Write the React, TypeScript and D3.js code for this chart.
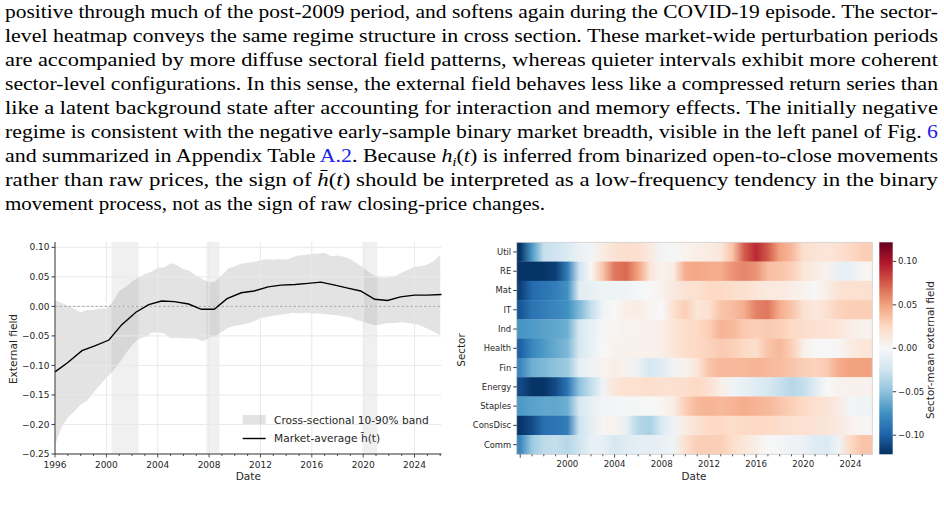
import React from "react";
import * as d3 from "d3";

// ---------- left panel: market-average external field ----------
const bandYears = d3.range(1996, 2026.01, 0.5);
const bandUpper = [
  0.010, 0.006, 0.001, -0.004, -0.010, -0.006, -0.006, -0.003, -0.004, 0.008,
  0.026, 0.033, 0.042, 0.049, 0.055, 0.058, 0.066, 0.066, 0.073, 0.070,
  0.063, 0.060, 0.052, 0.046, 0.041, 0.042, 0.053, 0.064, 0.068, 0.072,
  0.074, 0.075, 0.078, 0.080, 0.079, 0.080, 0.079, 0.083, 0.086, 0.087,
  0.089, 0.089, 0.091, 0.085, 0.086, 0.084, 0.080, 0.073, 0.066, 0.057,
  0.050, 0.048, 0.049, 0.051, 0.057, 0.062, 0.067, 0.068, 0.071, 0.077, 0.087,
];
const bandLower = [
  -0.235, -0.205, -0.188, -0.178, -0.166, -0.160, -0.146, -0.133, -0.121, -0.110,
  -0.096, -0.080, -0.066, -0.055, -0.052, -0.045, -0.044, -0.046, -0.054, -0.053,
  -0.054, -0.054, -0.055, -0.059, -0.053, -0.050, -0.043, -0.036, -0.033, -0.031,
  -0.029, -0.025, -0.020, -0.018, -0.016, -0.014, -0.013, -0.011, -0.012, -0.011,
  -0.012, -0.012, -0.013, -0.014, -0.015, -0.017, -0.019, -0.023, -0.026, -0.030,
  -0.032, -0.030, -0.028, -0.028, -0.027, -0.028, -0.030, -0.033, -0.038, -0.043, -0.049,
];
const lineYears = [
  1996, 1997, 1998.1, 1999.1, 2000.2, 2001.2, 2002.3, 2003.3, 2004.3, 2005.3,
  2006.4, 2007.4, 2008.4, 2009.4, 2010.5, 2011.5, 2012.6, 2013.6, 2014.7, 2015.7,
  2016.7, 2017.8, 2018.8, 2019.8, 2020.9, 2021.9, 2022.9, 2024.0, 2025.0, 2026.1,
];
const marketAverage = [
  -0.111, -0.095, -0.075, -0.067, -0.057, -0.031, -0.010, 0.003, 0.009, 0.008,
  0.004, -0.005, -0.005, 0.013, 0.023, 0.026, 0.033, 0.036, 0.037, 0.039,
  0.041, 0.036, 0.031, 0.026, 0.012, 0.010, 0.016, 0.019, 0.019, 0.020,
];
const stressSpans = [
  [2000.4, 2002.5],
  [2007.8, 2008.8],
  [2020.0, 2021.1],
];
const leftYTicks = [0.1, 0.05, 0, -0.05, -0.1, -0.15, -0.2, -0.25];
const yearTicks = [1996, 2000, 2004, 2008, 2012, 2016, 2020, 2024];

// ---------- right panel: sector-mean field heatmap ----------
const sectors = ["Util", "RE", "Mat", "IT", "Ind", "Health", "Fin", "Energy", "Staples", "ConsDisc", "Comm"];
const heatYears = d3.range(1996, 2026);
const util = [-0.12, -0.07, -0.028, -0.025, -0.018, -0.008, -0.004, 0.01, 0.018, 0.022, 0.02, 0.012, -0.004, -0.002, 0.004, 0.008, 0.01, 0.014, 0.035, 0.075, 0.092, 0.075, 0.05, 0.04, 0.02, 0.018, 0.015, 0.02, 0.025, 0.03];
const realEstate = [-0.12, -0.12, -0.12, -0.115, -0.085, -0.025, 0.0, 0.035, 0.065, 0.07, 0.05, 0.015, 0.004, 0.01, 0.045, 0.048, 0.045, 0.045, 0.055, 0.06, 0.055, 0.038, 0.035, 0.03, 0.015, 0.01, 0.005, -0.01, -0.01, 0.003];
const materials = [-0.115, -0.095, -0.09, -0.085, -0.075, -0.015, -0.01, -0.006, -0.006, -0.005, -0.002, 0.0, 0.005, 0.012, 0.018, 0.02, 0.025, 0.025, 0.022, 0.02, 0.015, 0.012, 0.012, 0.008, 0.005, 0.0, 0.008, 0.018, 0.02, 0.02];
const infoTech = [-0.105, -0.09, -0.085, -0.08, -0.075, -0.055, -0.03, -0.005, 0.0, 0.008, 0.01, 0.002, 0.0, 0.02, 0.03, 0.015, 0.02, 0.035, 0.038, 0.045, 0.062, 0.065, 0.045, 0.035, 0.02, 0.012, 0.02, 0.028, 0.03, 0.03];
const industrials = [-0.072, -0.07, -0.066, -0.064, -0.06, -0.02, -0.01, -0.002, 0.003, 0.005, 0.005, 0.006, 0.008, 0.015, 0.022, 0.025, 0.03, 0.042, 0.04, 0.032, 0.03, 0.032, 0.03, 0.025, 0.022, 0.02, 0.018, 0.015, 0.008, 0.005];
const health = [-0.1, -0.08, -0.07, -0.062, -0.055, -0.02, -0.01, 0.0, 0.005, 0.006, 0.006, 0.005, 0.008, 0.015, 0.022, 0.025, 0.028, 0.032, 0.03, 0.025, 0.022, 0.035, 0.04, 0.03, 0.008, 0.0, 0.0, 0.002, 0.01, 0.015];
const financials = [-0.08, -0.06, -0.055, -0.05, -0.045, -0.012, -0.005, 0.004, 0.008, 0.005, -0.008, -0.022, -0.015, -0.005, 0.005, 0.015, 0.035, 0.04, 0.04, 0.04, 0.042, 0.04, 0.038, 0.035, 0.03, 0.028, 0.032, 0.045, 0.05, 0.05];
const energy = [-0.11, -0.12, -0.12, -0.11, -0.09, -0.05, -0.03, -0.005, 0.015, 0.02, 0.02, 0.022, 0.02, 0.02, 0.022, 0.025, 0.02, 0.008, -0.005, -0.01, -0.015, -0.02, -0.028, -0.035, -0.03, -0.015, 0.0, 0.004, 0.006, 0.005];
const staples = [-0.07, -0.066, -0.064, -0.064, -0.06, -0.02, -0.01, -0.004, -0.003, -0.002, -0.002, 0.0, 0.003, 0.01, 0.03, 0.04, 0.042, 0.04, 0.042, 0.045, 0.042, 0.04, 0.035, 0.03, 0.025, 0.02, 0.018, 0.01, -0.003, -0.006];
const consDisc = [-0.12, -0.11, -0.092, -0.09, -0.085, -0.025, -0.012, 0.003, 0.005, -0.01, -0.035, -0.04, -0.018, -0.005, 0.01, 0.018, 0.025, 0.025, 0.022, 0.025, 0.025, 0.025, 0.022, 0.02, 0.02, 0.018, 0.015, 0.012, 0.005, 0.002];
const comm = [-0.08, -0.045, -0.032, -0.03, -0.035, -0.025, -0.01, -0.01, -0.02, -0.015, -0.012, -0.012, -0.01, -0.005, 0.02, 0.03, 0.03, 0.03, 0.022, 0.015, 0.008, 0.0, -0.002, -0.005, -0.008, -0.015, -0.018, -0.005, 0.025, 0.035];
const sectorRows = [util, realEstate, materials, infoTech, industrials, health, financials, energy, staples, consDisc, comm];
const heatYearTicks = [2000, 2004, 2008, 2012, 2016, 2020, 2024];
const cbarTicks = [0.1, 0.05, 0, -0.05, -0.1];
const fieldLimit = 0.122;

// scales
const lx = d3.scaleLinear().domain([1996, 2026.1]).range([55, 441.5]);
const ly = d3.scaleLinear().domain([-0.25, 0.109]).range([454, 242]);
const hx = d3.scaleLinear().domain([1995.7, 2025.85]).range([516.7, 872.3]);
const hy = d3.scaleBand().domain(sectors).range([242.3, 454.3]);
const cy = d3.scaleLinear().domain([-fieldLimit, fieldLimit]).range([454.3, 242.3]);

// matplotlib-style RdBu_r: linear between the 11 scheme colours
const rdbu = d3.schemeRdBu[11].slice().reverse();
const rdbuDomain = rdbu.map((_, i) => -fieldLimit + (i * 2 * fieldLimit) / 10);
const color = d3.scaleLinear<string>().domain(rdbuDomain).range(rdbu).interpolate(d3.interpolateRgb).clamp(true);

const fmt = (v: number) => d3.format(".2f")(v).replace("-", "\u2212");
const sans = "DejaVu Sans";
const ink = "#262626";

const bandArea = d3
  .area<number>()
  .x((d) => lx(d))
  .y0((_, i) => ly(bandLower[i]))
  .y1((_, i) => ly(bandUpper[i]));
const avgLine = d3
  .line<number>()
  .x((d) => lx(d))
  .y((_, i) => ly(marketAverage[i]));

const Paragraph = () => {
  const left = 5;
  const full = 933;
  const top = 18;
  const lead = 24;
  const link = "#2323e6";
  const lines: React.ReactNode[] = [
    "positive through much of the post-2009 period, and softens again during the COVID-19 episode. The sector-",
    "level heatmap conveys the same regime structure in cross section. These market-wide perturbation periods",
    "are accompanied by more diffuse sectoral field patterns, whereas quieter intervals exhibit more coherent",
    "sector-level configurations. In this sense, the external field behaves less like a compressed return series than",
    "like a latent background state after accounting for interaction and memory effects. The initially negative",
    <>
      regime is consistent with the negative early-sample binary market breadth, visible in the left panel of Fig.{" "}
      <tspan fill={link}>6</tspan>
    </>,
    <>
      and summarized in Appendix Table <tspan fill={link}>A.2</tspan>. Because <tspan fontStyle="italic">h</tspan>
      <tspan fontStyle="italic" fontSize={13.5} dy={4}>i</tspan>
      <tspan dy={-4}>(</tspan>
      <tspan fontStyle="italic">t</tspan>) is inferred from binarized open-to-close movements
    </>,
    <>
      rather than raw prices, the sign of <tspan fontStyle="italic">{"h\u0304"}</tspan>(<tspan fontStyle="italic">t</tspan>) should be
      interpreted as a low-frequency tendency in the binary
    </>,
    "movement process, not as the sign of raw closing-price changes.",
  ];
  return (
    <g fontFamily="Liberation Serif" fontSize={19.5} fill="#000">
      {lines.map((l, i) => (
        <text
          key={i}
          x={left}
          y={top + i * lead}
          textLength={i === lines.length - 1 ? 540 : full}
          lengthAdjust="spacingAndGlyphs"
        >
          {l}
        </text>
      ))}
    </g>
  );
};

const FieldPanel = () => {
  const [x0, x1] = lx.range();
  const [yb, yt] = ly.range();
  return (
    <g fontFamily={sans}>
      {stressSpans.map(([a, b], i) => (
        <rect key={i} x={lx(a)} y={yt} width={lx(b) - lx(a)} height={yb - yt} fill="#808080" fillOpacity={0.12} />
      ))}
      <path d={bandArea(bandYears) ?? ""} fill="#808080" fillOpacity={0.22} />
      {/* grid */}
      {leftYTicks.map((t) => (
        <line key={t} x1={x0} x2={x1} y1={ly(t)} y2={ly(t)} stroke="#e9e9e9" strokeWidth={1} />
      ))}
      {yearTicks.map((t) => (
        <line key={t} x1={lx(t)} x2={lx(t)} y1={yt} y2={yb} stroke="#e9e9e9" strokeWidth={1} />
      ))}
      <line x1={x0} x2={x1} y1={ly(0)} y2={ly(0)} stroke="#9a9a9a" strokeWidth={0.8} strokeDasharray="2.5,2" />
      <path d={avgLine(lineYears) ?? ""} fill="none" stroke="#000" strokeWidth={1.4} />
      {/* spines */}
      <line x1={x0} x2={x0} y1={yt} y2={yb} stroke={ink} strokeWidth={0.9} />
      <line x1={x0} x2={x1} y1={yb} y2={yb} stroke={ink} strokeWidth={0.9} />
      {leftYTicks.map((t) => (
        <g key={t}>
          <line x1={x0 - 3.5} x2={x0} y1={ly(t)} y2={ly(t)} stroke={ink} strokeWidth={0.9} />
          <text x={x0 - 5.5} y={ly(t)} dy="0.35em" textAnchor="end" fontSize={9} fill={ink}>
            {fmt(t)}
          </text>
        </g>
      ))}
      {d3.range(1996, 2027).map((t) => (
        <line key={t} x1={lx(t)} x2={lx(t)} y1={yb} y2={yb + (t % 4 === 0 ? 3.5 : 2)} stroke={ink} strokeWidth={0.8} />
      ))}
      {yearTicks.map((t) => (
        <text key={t} x={lx(t)} y={467.5} textAnchor="middle" fontSize={9} fill={ink}>
          {t}
        </text>
      ))}
      <text x={248.3} y={479.5} textAnchor="middle" fontSize={10.6} fill={ink}>
        Date
      </text>
      <text transform="translate(16.5,349) rotate(-90)" textAnchor="middle" fontSize={10.6} fill={ink}>
        External field
      </text>
      {/* legend */}
      <rect x={242.7} y={415} width={23} height={9} fill="#808080" fillOpacity={0.22} />
      <text x={274} y={423.5} fontSize={10.6} fill={ink}>
        Cross-sectional 10-90% band
      </text>
      <line x1={242.7} x2={265.7} y1={438.5} y2={438.5} stroke="#000" strokeWidth={1.4} />
      <text x={274} y={442.3} fontSize={10.6} fill={ink}>
        {"Market-average h\u0304(t)"}
      </text>
    </g>
  );
};

const SectorHeatmap = () => {
  const [x0, x1] = hx.range();
  const [yt, yb] = hy.range();
  const [cb, ct] = cy.range();
  const cx0 = 879.3;
  const cx1 = 892.7;
  return (
    <g fontFamily={sans}>
      <defs>
        {sectorRows.map((row, i) => (
          <linearGradient key={i} id={`sector-row-${i}`} gradientUnits="userSpaceOnUse" x1={x0} x2={x1} y1={0} y2={0}>
            {row.map((v, j) => (
              <stop key={j} offset={(hx(heatYears[j]) - x0) / (x1 - x0)} stopColor={color(v)} />
            ))}
          </linearGradient>
        ))}
        <linearGradient id="cbar" x1={0} x2={0} y1={1} y2={0}>
          {rdbuDomain.map((v, i) => (
            <stop key={i} offset={i / 10} stopColor={color(v)} />
          ))}
        </linearGradient>
      </defs>
      {sectors.map((s, i) => (
        <rect key={s} x={x0} y={hy(s)} width={x1 - x0} height={hy.bandwidth() + 0.3} fill={`url(#sector-row-${i})`} />
      ))}
      <rect x={x0} y={yt} width={x1 - x0} height={yb - yt} fill="none" stroke="#cfcfcf" strokeWidth={0.8} />
      {sectors.map((s) => {
        const yc = (hy(s) ?? 0) + hy.bandwidth() / 2;
        return (
          <g key={s}>
            <line x1={x0 - 3.5} x2={x0} y1={yc} y2={yc} stroke={ink} strokeWidth={0.9} />
            <text x={x0 - 5.5} y={yc} dy="0.35em" textAnchor="end" fontSize={8.4} fill={ink}>
              {s}
            </text>
          </g>
        );
      })}
      {d3.range(1996, 2026).map((t) => (
        <line key={t} x1={hx(t)} x2={hx(t)} y1={yb} y2={yb + (t % 4 === 0 ? 3.5 : 2)} stroke={ink} strokeWidth={0.8} />
      ))}
      {heatYearTicks.map((t) => (
        <text key={t} x={hx(t)} y={467} textAnchor="middle" fontSize={8.6} fill={ink}>
          {t}
        </text>
      ))}
      <text x={694} y={479.5} textAnchor="middle" fontSize={10.4} fill={ink}>
        Date
      </text>
      <text transform="translate(465,350) rotate(-90)" textAnchor="middle" fontSize={10.4} fill={ink}>
        Sector
      </text>
      {/* colorbar */}
      <rect x={cx0} y={ct} width={cx1 - cx0} height={cb - ct} fill="url(#cbar)" />
      {cbarTicks.map((t) => (
        <g key={t}>
          <line x1={cx1} x2={cx1 + 3.5} y1={cy(t)} y2={cy(t)} stroke={ink} strokeWidth={0.9} />
          <text x={cx1 + 5.3} y={cy(t)} dy="0.35em" fontSize={8.6} fill={ink}>
            {fmt(t)}
          </text>
        </g>
      ))}
      <text transform="translate(934,350) rotate(-90)" textAnchor="middle" fontSize={10.4} fill={ink}>
        Sector-mean external field
      </text>
    </g>
  );
};

export default function App() {
  return (
    <svg
      width={944}
      height={506}
      viewBox="0 0 944 506"
      style={{ position: "absolute", left: 0, top: 0, background: "#fff" }}
    >
      <rect width={944} height={506} fill="#fff" />
      <Paragraph />
      <FieldPanel />
      <SectorHeatmap />
    </svg>
  );
}
